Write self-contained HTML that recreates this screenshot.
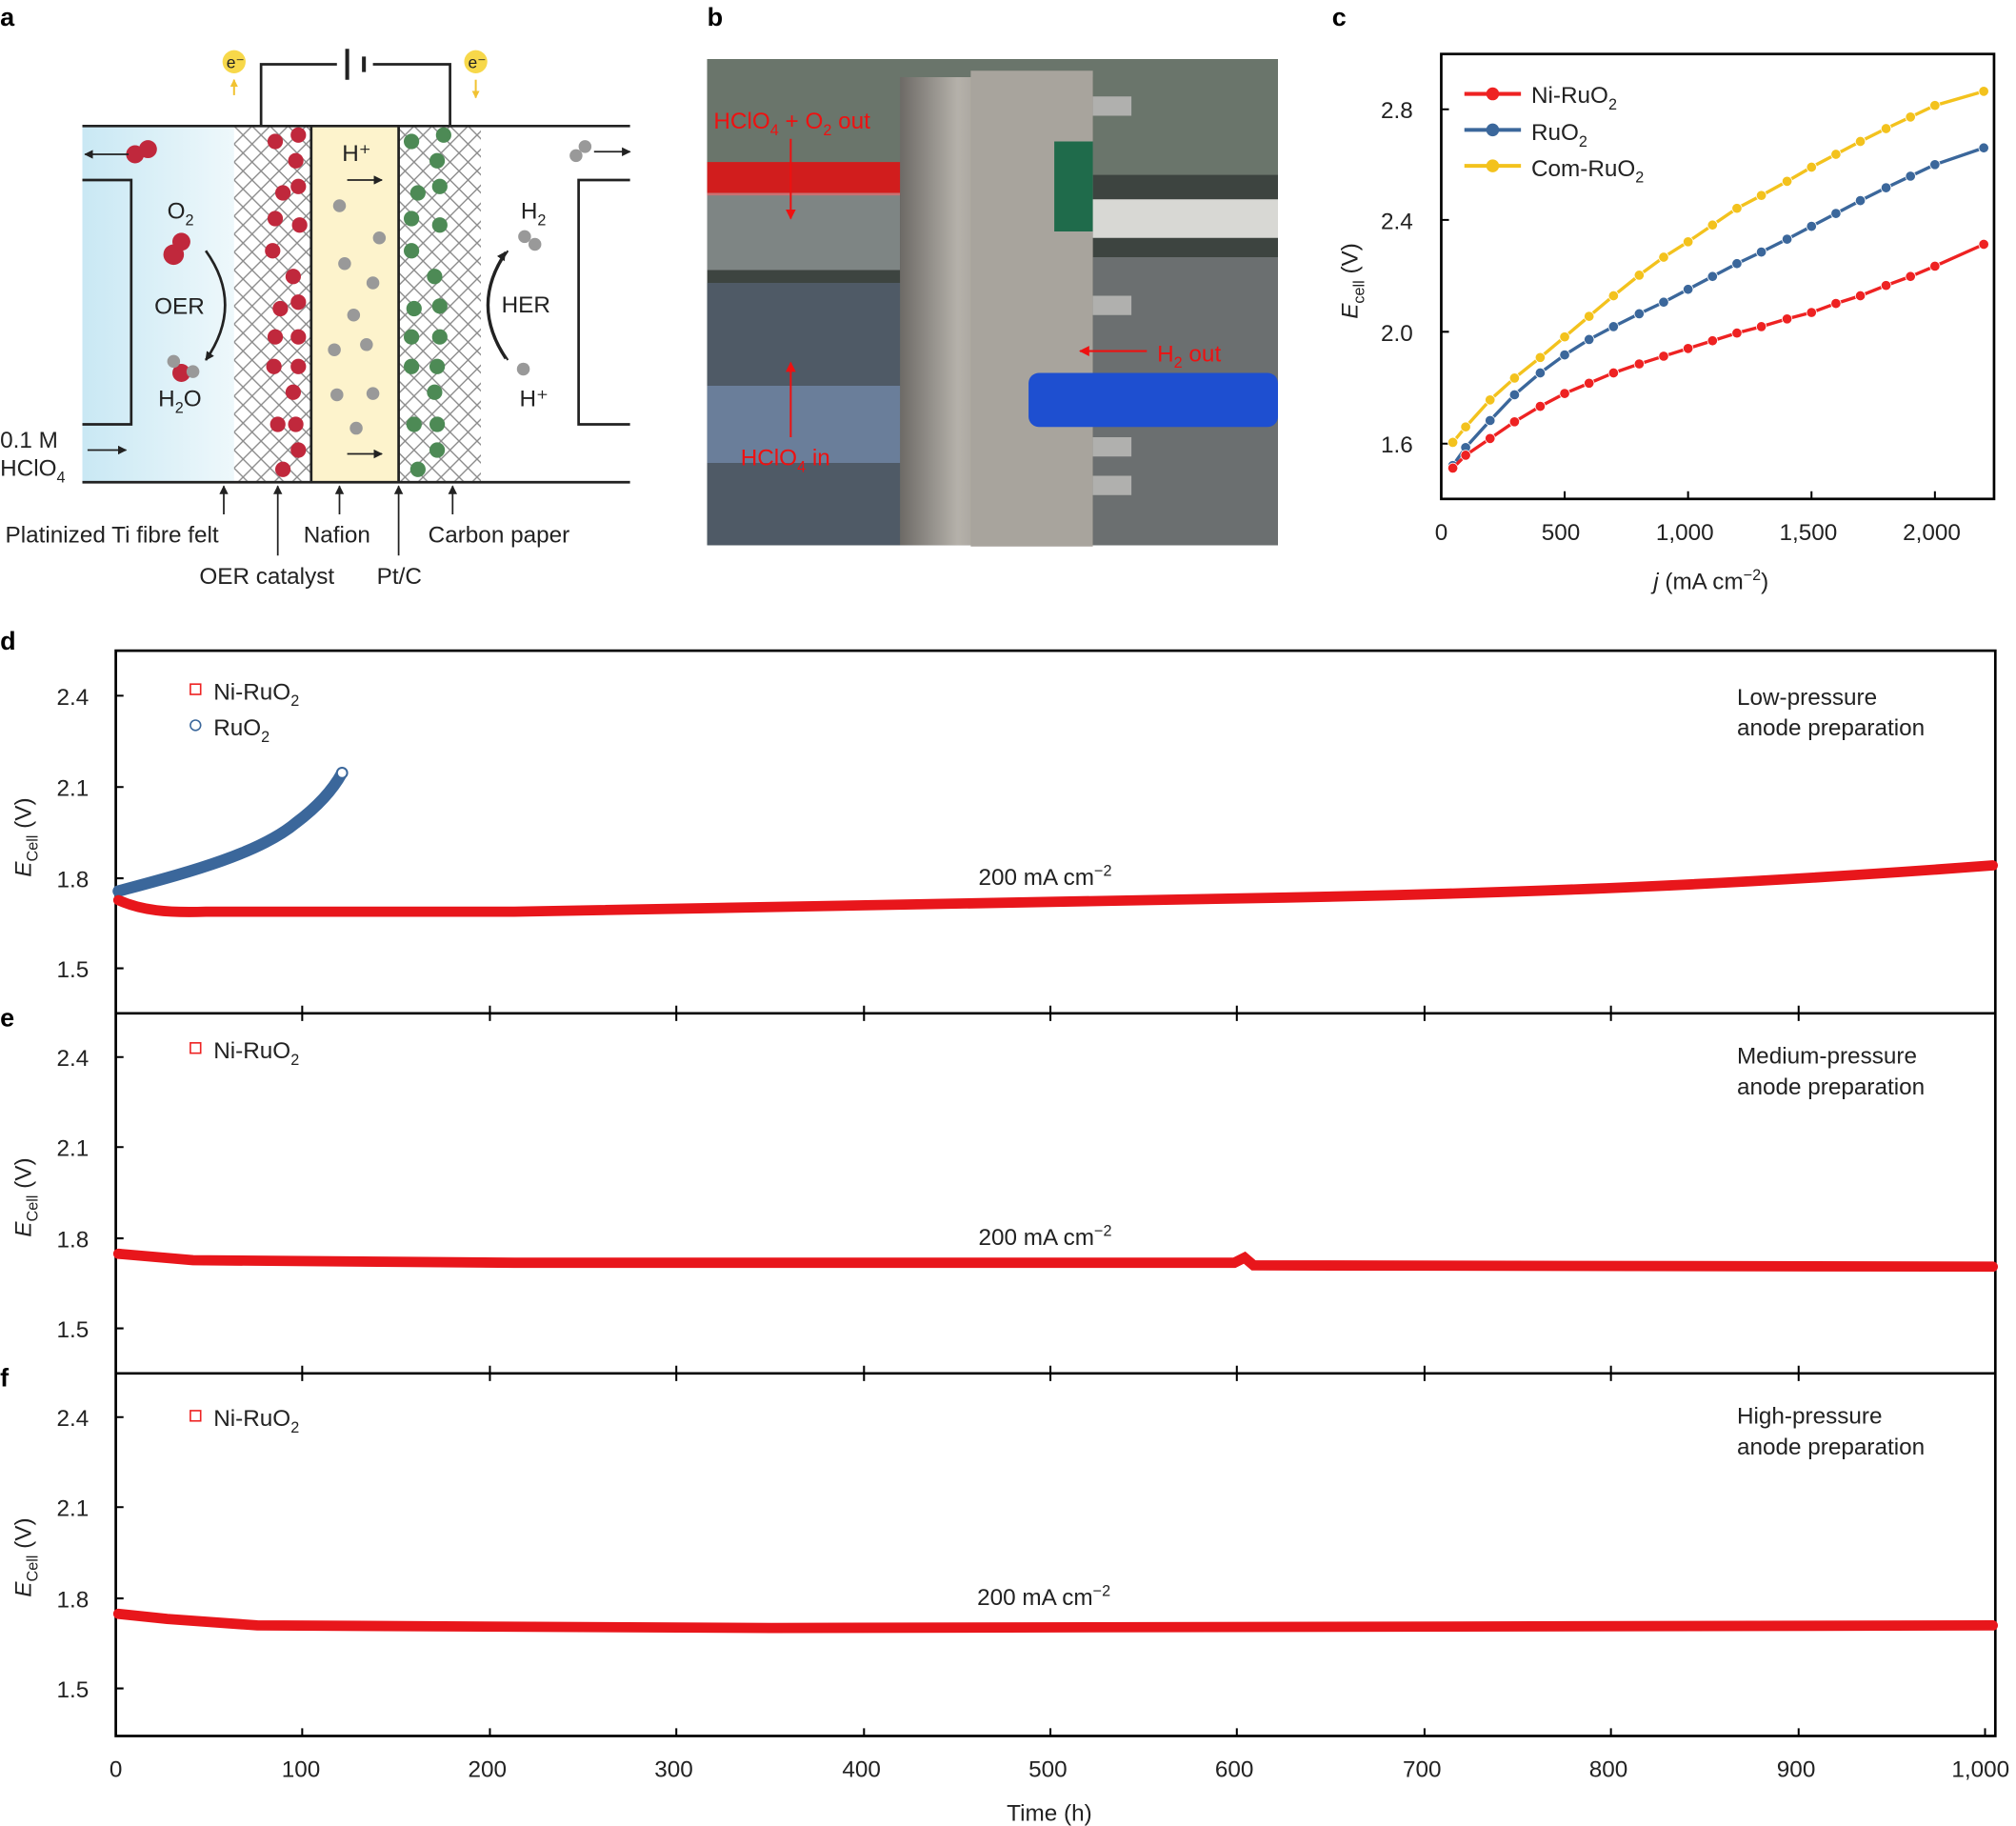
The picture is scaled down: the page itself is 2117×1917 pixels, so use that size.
<!DOCTYPE html>
<html><head><meta charset="utf-8"><style>
html,body{margin:0;padding:0;background:#fff}
svg{display:block}
text{font-family:"Liberation Sans",sans-serif}
</style></head><body>
<svg width="2117" height="1917" viewBox="0 0 1568 1420" xmlns="http://www.w3.org/2000/svg" fill="#222">
<defs>
<linearGradient id="lg" x1="0" x2="1"><stop offset="0" stop-color="#c9e8f4"/><stop offset="1" stop-color="#eef8fb"/></linearGradient>
<linearGradient id="metal" x1="0" x2="1"><stop offset="0" stop-color="#6d6a66"/><stop offset="0.3" stop-color="#b5b1aa"/><stop offset="0.6" stop-color="#918d86"/><stop offset="1" stop-color="#5a5752"/></linearGradient>
<pattern id="mesh" width="14" height="14" patternUnits="userSpaceOnUse"><path d="M0 0L14 14M14 0L0 14" stroke="#888" stroke-width="1"/></pattern>
<marker id="ar" viewBox="0 0 10 10" refX="9" refY="5" markerWidth="7" markerHeight="7" markerUnits="userSpaceOnUse" orient="auto"><path d="M0 0L10 5L0 10z" fill="#222"/></marker>
<marker id="arr" viewBox="0 0 10 10" refX="9" refY="5" markerWidth="8" markerHeight="8" markerUnits="userSpaceOnUse" orient="auto"><path d="M0 0L10 5L0 10z" fill="#e11"/></marker>
<marker id="ary" viewBox="0 0 10 10" refX="9" refY="5" markerWidth="6" markerHeight="6" markerUnits="userSpaceOnUse" orient="auto"><path d="M0 0L10 5L0 10z" fill="#f1c232"/></marker>
<marker id="mr" viewBox="0 0 10 10" refX="5" refY="5" markerWidth="9" markerHeight="9" markerUnits="userSpaceOnUse"><circle cx="5" cy="5" r="4.3" fill="#e22" stroke="#fff" stroke-width="0.6"/></marker>
<marker id="mb" viewBox="0 0 10 10" refX="5" refY="5" markerWidth="9" markerHeight="9" markerUnits="userSpaceOnUse"><circle cx="5" cy="5" r="4.3" fill="#3b679b" stroke="#fff" stroke-width="0.6"/></marker>
<marker id="my" viewBox="0 0 10 10" refX="5" refY="5" markerWidth="9" markerHeight="9" markerUnits="userSpaceOnUse"><circle cx="5" cy="5" r="4.3" fill="#f3c21d" stroke="#fff" stroke-width="0.6"/></marker>
</defs>
<g fill="#000" font-size="20" font-weight="bold">
<text x="0" y="20">a</text><text x="550" y="20">b</text><text x="1036" y="20">c</text>
<text x="0" y="505">d</text><text x="0" y="798">e</text><text x="0" y="1078">f</text>
</g>

<!-- panel a -->
<rect x="64" y="98" width="118" height="277" fill="url(#lg)"/>
<rect x="182" y="98" width="60" height="277" fill="url(#mesh)"/>
<rect x="242" y="98" width="68" height="277" fill="#fdf3cc"/>
<rect x="310" y="98" width="64" height="277" fill="url(#mesh)"/>
<g fill="#c0283c">
<circle cx="214" cy="110" r="6"/><circle cx="230" cy="125" r="6"/><circle cx="220" cy="150" r="6"/><circle cx="233" cy="175" r="6"/><circle cx="212" cy="195" r="6"/><circle cx="228" cy="215" r="6"/><circle cx="218" cy="240" r="6"/><circle cx="232" cy="262" r="6"/><circle cx="213" cy="285" r="6"/><circle cx="228" cy="305" r="6"/><circle cx="216" cy="330" r="6"/><circle cx="232" cy="350" r="6"/><circle cx="220" cy="365" r="6"/><circle cx="232" cy="105" r="6"/><circle cx="232" cy="145" r="6"/><circle cx="214" cy="170" r="6"/><circle cx="232" cy="235" r="6"/><circle cx="214" cy="262" r="6"/><circle cx="232" cy="285" r="6"/><circle cx="230" cy="330" r="6"/>
<circle cx="105" cy="120" r="7"/><circle cx="115" cy="116" r="7"/><circle cx="135" cy="198" r="8"/><circle cx="141" cy="188" r="7"/><circle cx="141" cy="290" r="7"/>
</g>
<g fill="#4d8a55">
<circle cx="320" cy="110" r="6"/><circle cx="340" cy="125" r="6"/><circle cx="325" cy="150" r="6"/><circle cx="342" cy="175" r="6"/><circle cx="320" cy="195" r="6"/><circle cx="338" cy="215" r="6"/><circle cx="322" cy="240" r="6"/><circle cx="342" cy="262" r="6"/><circle cx="320" cy="285" r="6"/><circle cx="338" cy="305" r="6"/><circle cx="322" cy="330" r="6"/><circle cx="340" cy="350" r="6"/><circle cx="325" cy="365" r="6"/><circle cx="345" cy="105" r="6"/><circle cx="342" cy="145" r="6"/><circle cx="320" cy="170" r="6"/><circle cx="342" cy="238" r="6"/><circle cx="320" cy="262" r="6"/><circle cx="340" cy="285" r="6"/><circle cx="340" cy="330" r="6"/>
</g>
<g fill="#999"><circle cx="264" cy="160" r="5"/><circle cx="295" cy="185" r="5"/><circle cx="268" cy="205" r="5"/><circle cx="290" cy="220" r="5"/><circle cx="275" cy="245" r="5"/><circle cx="260" cy="272" r="5"/><circle cx="285" cy="268" r="5"/><circle cx="262" cy="307" r="5"/><circle cx="290" cy="306" r="5"/><circle cx="277" cy="333" r="5"/>
<circle cx="408" cy="184" r="5"/><circle cx="416" cy="190" r="5"/><circle cx="407" cy="287" r="5"/><circle cx="448" cy="121" r="5"/><circle cx="455" cy="114" r="5"/><circle cx="135" cy="281" r="5"/><circle cx="150" cy="289" r="5"/></g>
<g stroke="#222" stroke-width="2" fill="none">
<path d="M64 98H490M64 375H490"/>
<path d="M64 140H102V330H64"/>
<path d="M490 140H450V330H490"/>
<path d="M242 98V375M310 98V375"/>
<path d="M203 98V50H262M290 50H350V98"/><path d="M270 38V62M283 44V56" stroke-width="3"/>
<path d="M160 195Q190 237 160 280" marker-end="url(#ar)"/><path d="M395 195Q365 237 395 280" stroke-width="1.5"/><path d="M393 279Q365 237 393 196" marker-end="url(#ar)" stroke-width="1.5"/>
</g>
<g stroke="#222" stroke-width="1.3" fill="none" marker-end="url(#ar)">
<path d="M270 140H297"/><path d="M270 353H297"/><path d="M68 350H98"/><path d="M100 120H66"/><path d="M462 118H490"/>
<path d="M174 400V378"/><path d="M216 432V378"/><path d="M264 400V378"/><path d="M310 432V378"/><path d="M352 400V378"/>
</g>
<circle cx="182" cy="48" r="9" fill="#f7d84a"/><circle cx="370" cy="48" r="9" fill="#f7d84a"/>
<text x="176" y="53" font-size="13">e⁻</text><text x="364" y="53" font-size="13">e⁻</text>
<path d="M182 74V62" stroke="#f1c232" stroke-width="1.5" marker-end="url(#ary)"/><path d="M370 62V76" stroke="#f1c232" stroke-width="1.5" marker-end="url(#ary)"/>
<g font-size="18">
<text x="130" y="170">O<tspan font-size="12" dy="5">2</tspan></text>
<text x="120" y="244">OER</text>
<text x="123" y="316">H<tspan font-size="12" dy="5">2</tspan><tspan dy="-5">O</tspan></text>
<text x="405" y="170">H<tspan font-size="12" dy="5">2</tspan></text>
<text x="390" y="243">HER</text>
<text x="404" y="316">H⁺</text>
<text x="266" y="125">H⁺</text>
<text x="0" y="348">0.1 M</text>
<text x="0" y="370">HClO<tspan font-size="12" dy="5">4</tspan></text>
<text x="4" y="422">Platinized Ti fibre felt</text>
<text x="236" y="422">Nafion</text>
<text x="333" y="422">Carbon paper</text>
<text x="155" y="454">OER catalyst</text>
<text x="293" y="454">Pt/C</text>
</g>

<!-- panel b photo -->
<rect x="550" y="46" width="444" height="378" fill="#3d4440"/>
<rect x="550" y="46" width="444" height="90" fill="#6a756b"/>
<rect x="550" y="220" width="160" height="204" fill="#4f5a66"/>
<rect x="550" y="300" width="160" height="60" fill="#6a7e9a"/>
<rect x="850" y="200" width="144" height="224" fill="#6b6f70"/>
<rect x="550" y="126" width="155" height="26" fill="#d11d1d"/>
<rect x="550" y="150" width="150" height="60" fill="#bfc6c8" opacity="0.5"/>
<rect x="700" y="60" width="150" height="364" fill="url(#metal)"/>
<rect x="755" y="55" width="95" height="370" fill="#a8a49d"/>
<rect x="820" y="110" width="30" height="70" fill="#1f6b4b"/>
<rect x="800" y="290" width="194" height="42" rx="8" fill="#1e4fd0"/>
<rect x="850" y="155" width="144" height="30" fill="#d8d8d4"/>
<g fill="#b0b0ae"><rect x="850" y="75" width="30" height="15"/><rect x="850" y="230" width="30" height="15"/><rect x="850" y="340" width="30" height="15"/><rect x="850" y="370" width="30" height="15"/></g>
<g font-size="18" fill="#e11"><text x="555" y="100">HClO<tspan font-size="12" dy="5">4</tspan><tspan dy="-5"> + O</tspan><tspan font-size="12" dy="5">2</tspan><tspan dy="-5"> out</tspan></text>
<text x="900" y="281">H<tspan font-size="12" dy="5">2</tspan><tspan dy="-5"> out</tspan></text>
<text x="576" y="362">HClO<tspan font-size="12" dy="5">4</tspan><tspan dy="-5"> in</tspan></text></g>
<g stroke="#e11" stroke-width="1.5" fill="none" marker-end="url(#arr)"><path d="M615 108V170"/><path d="M615 340V282"/><path d="M892 273H840"/></g>

<!-- panel c -->
<rect x="1121" y="42" width="430" height="346" fill="none" stroke="#000" stroke-width="2"/>
<g font-size="18">
<text x="1116" y="420">0</text><text x="1199" y="420">500</text><text x="1288" y="420">1,000</text><text x="1384" y="420">1,500</text><text x="1480" y="420">2,000</text>
<text x="1074" y="92">2.8</text><text x="1074" y="178">2.4</text><text x="1074" y="265">2.0</text><text x="1074" y="352">1.6</text>
<text x="1286" y="458"><tspan font-style="italic">j</tspan> (mA cm<tspan font-size="12" dy="-7">−2</tspan><tspan dy="7">)</tspan></text>
<text transform="translate(1056 248) rotate(-90)"><tspan font-style="italic">E</tspan><tspan font-size="12" dy="5">cell</tspan><tspan dy="-5"> (V)</tspan></text>
<text x="1191" y="80">Ni-RuO<tspan font-size="12" dy="5">2</tspan></text>
<text x="1191" y="109">RuO<tspan font-size="12" dy="5">2</tspan></text>
<text x="1191" y="137">Com-RuO<tspan font-size="12" dy="5">2</tspan></text>
</g>
<g stroke="#000" stroke-width="1.5"><path d="M1121 388v-6M1217 388v-6M1313 388v-6M1409 388v-6M1505 388v-6M1121 85h6M1121 171h6M1121 258h6M1121 345h6"/></g>
<path d="M1139 73H1183" stroke-width="3" stroke="#e22"/>
<path d="M1139 101H1183" stroke-width="3" stroke="#3b679b"/><path d="M1139 129H1183" stroke-width="3" stroke="#f3c21d"/>
<circle cx="1161" cy="73" r="5" fill="#e22"/><circle cx="1161" cy="101" r="5" fill="#3b679b"/><circle cx="1161" cy="129" r="5" fill="#f3c21d"/>
<g fill="none" stroke-width="2.5">
<path d="M1130 344 L1140 332 L1159 311 L1178 294 L1198 278 L1217 262 L1236 246 L1255 230 L1275 214 L1294 200 L1313 188 L1332 175 L1351 162 L1370 152 L1390 141 L1409 130 L1428 120 L1447 110 L1467 100 L1486 91 L1505 82 L1543 71" stroke="#f3c21d" marker-start="url(#my)" marker-mid="url(#my)" marker-end="url(#my)"/>
<path d="M1130 362 L1140 348 L1159 327 L1178 307 L1198 290 L1217 276 L1236 264 L1255 254 L1275 244 L1294 235 L1313 225 L1332 215 L1351 205 L1370 196 L1390 186 L1409 176 L1428 166 L1447 156 L1467 146 L1486 137 L1505 128 L1543 115" stroke="#3b679b" marker-start="url(#mb)" marker-mid="url(#mb)" marker-end="url(#mb)"/>
<path d="M1130 364 L1140 354 L1159 341 L1178 328 L1198 316 L1217 306 L1236 298 L1255 290 L1275 283 L1294 277 L1313 271 L1332 265 L1351 259 L1370 254 L1390 248 L1409 243 L1428 236 L1447 230 L1467 222 L1486 215 L1505 207 L1543 190" stroke="#e22" marker-start="url(#mr)" marker-mid="url(#mr)" marker-end="url(#mr)"/>
</g>

<!-- panels d e f -->
<g fill="none" stroke="#000" stroke-width="2">
<rect x="90" y="506" width="1462" height="844"/><path d="M90 788H1552M90 1068H1552"/>
</g>
<g stroke="#000" stroke-width="1.5">
<path d="M90 541h6M90 612h6M90 683h6M90 753h6M90 822h6M90 892h6M90 963h6M90 1033h6M90 1102h6M90 1172h6M90 1243h6M90 1313h6"/>
<path d="M235 1350v-6M381 1350v-6M526 1350v-6M672 1350v-6M817 1350v-6M962 1350v-6M1108 1350v-6M1253 1350v-6M1399 1350v-6M1544 1350v-6 M235 788v6M381 788v6M526 788v6M672 788v6M817 788v6M962 788v6M1108 788v6M1253 788v6M1399 788v6M235 1068v6M381 1068v6M526 1068v6M672 1068v6M817 1068v6M962 1068v6M1108 1068v6M1253 1068v6M1399 1068v6 M235 788v-6M381 788v-6M526 788v-6M672 788v-6M817 788v-6M962 788v-6M1108 788v-6M1253 788v-6M1399 788v-6M235 1068v-6M381 1068v-6M526 1068v-6M672 1068v-6M817 1068v-6M962 1068v-6M1108 1068v-6M1253 1068v-6M1399 1068v-6"/>
</g>
<g font-size="18">
<text x="44" y="548">2.4</text><text x="44" y="619">2.1</text><text x="44" y="690">1.8</text><text x="44" y="760">1.5</text>
<text x="44" y="829">2.4</text><text x="44" y="899">2.1</text><text x="44" y="970">1.8</text><text x="44" y="1040">1.5</text>
<text x="44" y="1109">2.4</text><text x="44" y="1179">2.1</text><text x="44" y="1250">1.8</text><text x="44" y="1320">1.5</text>
<text x="85" y="1382">0</text><text x="219" y="1382">100</text><text x="364" y="1382">200</text><text x="509" y="1382">300</text><text x="655" y="1382">400</text><text x="800" y="1382">500</text><text x="945" y="1382">600</text><text x="1091" y="1382">700</text><text x="1236" y="1382">800</text><text x="1382" y="1382">900</text><text x="1518" y="1382">1,000</text>
<text x="783" y="1416">Time (h)</text>
<text transform="translate(24 682) rotate(-90)"><tspan font-style="italic">E</tspan><tspan font-size="12" dy="5">Cell</tspan><tspan dy="-5"> (V)</tspan></text>
<text transform="translate(24 962) rotate(-90)"><tspan font-style="italic">E</tspan><tspan font-size="12" dy="5">Cell</tspan><tspan dy="-5"> (V)</tspan></text>
<text transform="translate(24 1242) rotate(-90)"><tspan font-style="italic">E</tspan><tspan font-size="12" dy="5">Cell</tspan><tspan dy="-5"> (V)</tspan></text>
<text x="166" y="544">Ni-RuO<tspan font-size="12" dy="5">2</tspan></text>
<text x="166" y="572">RuO<tspan font-size="12" dy="5">2</tspan></text>
<text x="166" y="823">Ni-RuO<tspan font-size="12" dy="5">2</tspan></text>
<text x="166" y="1109">Ni-RuO<tspan font-size="12" dy="5">2</tspan></text>
<text x="1351" y="548">Low-pressure</text><text x="1351" y="572">anode preparation</text>
<text x="1351" y="827">Medium-pressure</text><text x="1351" y="851">anode preparation</text>
<text x="1351" y="1107">High-pressure</text><text x="1351" y="1131">anode preparation</text>
<text x="761" y="688">200 mA cm<tspan font-size="12" dy="-7">−2</tspan></text>
<text x="761" y="968">200 mA cm<tspan font-size="12" dy="-7">−2</tspan></text>
<text x="760" y="1248">200 mA cm<tspan font-size="12" dy="-7">−2</tspan></text>
</g>
<rect x="148" y="532" width="8" height="8" fill="none" stroke="#e22" stroke-width="1.2"/>
<circle cx="152" cy="564" r="4" fill="none" stroke="#3b679b" stroke-width="1.2"/>
<rect x="148" y="811" width="8" height="8" fill="none" stroke="#e22" stroke-width="1.2"/>
<rect x="148" y="1097" width="8" height="8" fill="none" stroke="#e22" stroke-width="1.2"/>
<g fill="none" stroke-linecap="round">
<path d="M92 693 C140 680 200 665 230 640 C250 625 260 612 266 601" stroke="#3b679b" stroke-width="9"/>
<path d="M92 700 C110 708 130 710 160 709 L400 709 C600 706 800 702 1000 698 C1200 694 1350 688 1550 673" stroke="#e8161b" stroke-width="8"/>
<path d="M92 975 L150 980 L400 982 L960 982 L968 978 L975 984 L1550 985" stroke="#e8161b" stroke-width="8"/>
<path d="M92 1255 L130 1259 L200 1264 L600 1266 L1550 1264" stroke="#e8161b" stroke-width="8"/>
</g>
<circle cx="266" cy="601" r="4" fill="#fff" stroke="#3b679b" stroke-width="1.5"/>
</svg>
</body></html>
